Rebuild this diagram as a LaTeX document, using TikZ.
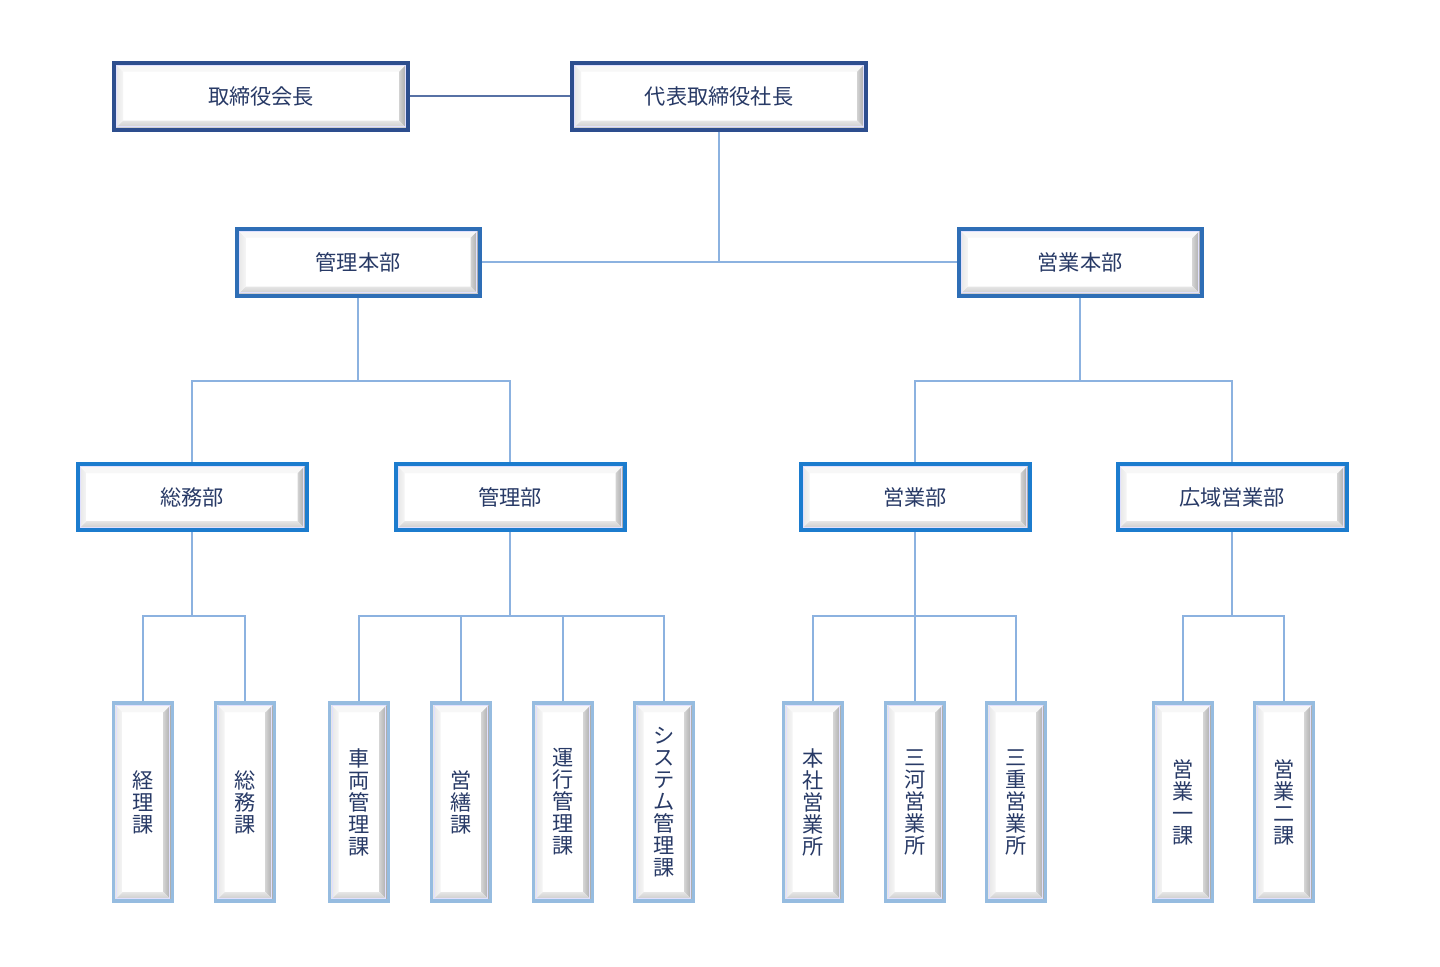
\documentclass[tikz,border=0pt]{standalone}
\usepackage{fontspec}
\newfontfamily\jpfont{Noto Sans CJK JP}
\definecolor{topline}{RGB}{45,78,142}
\definecolor{honbuline}{RGB}{46,110,182}
\definecolor{buline}{RGB}{28,124,206}
\definecolor{kaline}{RGB}{150,188,224}
\definecolor{linkcol}{RGB}{140,178,224}
\definecolor{textcol}{RGB}{40,58,102}
\tikzset{
  bevel/.style={path picture={
    \path (path picture bounding box.south west) coordinate (bvsw)
          (path picture bounding box.north east) coordinate (bvne)
          (path picture bounding box.north west) coordinate (bvnw)
          (path picture bounding box.south east) coordinate (bvse);
    \shade[left color=gray!35, right color=gray!75] (bvne) -- (bvse) -- ([shift={(-4.5pt,4.5pt)}]bvse) -- ([shift={(-4.5pt,-4.5pt)}]bvne) -- cycle;
    \shade[top color=gray!20, bottom color=gray!45] (bvse) -- (bvsw) -- ([shift={(4.5pt,4.5pt)}]bvsw) -- ([shift={(-4.5pt,4.5pt)}]bvse) -- cycle;
    \shade[left color=gray!22, right color=gray!8] (bvsw) -- (bvnw) -- ([shift={(4.5pt,-4.5pt)}]bvnw) -- ([shift={(4.5pt,4.5pt)}]bvsw) -- cycle;
    \fill[gray!6] (bvnw) -- (bvne) -- ([shift={(-4.5pt,-4.5pt)}]bvne) -- ([shift={(4.5pt,-4.5pt)}]bvnw) -- cycle;
    \draw[white!70!blue!40, line width=0.5pt] ([shift={(1.3pt,1.3pt)}]bvsw) rectangle ([shift={(-1.3pt,-1.3pt)}]bvne);
  }},
  box/.style={rectangle, fill=white, bevel, text=textcol, inner sep=0pt,
    font=\jpfont\fontsize{10.6}{11}\selectfont},
  topbox/.style={box, draw=topline, line width=2pt, minimum width=147pt, minimum height=33.5pt},
  honbu/.style={box, draw=honbuline, line width=2pt, minimum width=121.5pt, minimum height=33.5pt},
  bu/.style={box, draw=buline, line width=2pt, minimum width=114.5pt, minimum height=33pt},
  ka/.style={box, draw=kaline, line width=1.6pt, minimum width=29.5pt, minimum height=99pt,
    align=center, text width=14pt},
  link/.style={draw=linkcol, line width=0.6pt},
}
\begin{document}
\begin{tikzpicture}[x=0.5pt, y=-0.5pt]
  \useasboundingbox (0,0) rectangle (1440,966);
  % top
  \node[topbox] (kaicho) at (261,96) {取締役会長};
  \node[topbox] (shacho) at (719,96) {代表取締役社長};
  % honbu
  \node[honbu] (kanrih) at (358,262) {管理本部};
  \node[honbu] (eigyoh) at (1080,262) {営業本部};
  % bu
  \node[bu] (soumu) at (192,497) {総務部};
  \node[bu] (kanri) at (510,497) {管理部};
  \node[bu] (eigyo) at (915,497) {営業部};
  \node[bu] (kouiki) at (1232,497) {広域営業部};
  % ka
  \node[ka] (keiri) at (143,802) {経\\理\\課};
  \node[ka] (soumuka) at (245,802) {総\\務\\課};
  \node[ka] (sharyo) at (359,802) {車\\両\\管\\理\\課};
  \node[ka] (eizen) at (461,802) {営\\繕\\課};
  \node[ka] (unko) at (563,802) {運\\行\\管\\理\\課};
  \node[ka] (system) at (664,802) {シ\\ス\\テ\\ム\\管\\理\\課};
  \node[ka] (honsha) at (813,802) {本\\社\\営\\業\\所};
  \node[ka] (mikawa) at (915,802) {三\\河\\営\\業\\所};
  \node[ka] (mie) at (1016,802) {三\\重\\営\\業\\所};
  \node[ka] (eigyo1) at (1183,802) {営\\業\\一\\課};
  \node[ka] (eigyo2) at (1284,802) {営\\業\\二\\課};
  % links
  \draw[link, draw=topline!80] (kaicho.east) -- (shacho.west);
  \draw[link] (shacho.south) -- (shacho.south |- 0,263);
  \draw[link] (kanrih.east) -- (eigyoh.west);
  \draw[link] (kanrih.south) -- (kanrih.south |- 0,381);
  \draw[link] (soumu.north) |- (kanri.north |- 0,381) -- (kanri.north);
  \draw[link] (eigyoh.south) -- (eigyoh.south |- 0,381);
  \draw[link] (eigyo.north) |- (kouiki.north |- 0,381) -- (kouiki.north);
  \draw[link] (soumu.south) -- (soumu.south |- 0,616);
  \draw[link] (keiri.north) |- (soumuka.north |- 0,616) -- (soumuka.north);
  \draw[link] (kanri.south) -- (kanri.south |- 0,616);
  \draw[link] (sharyo.north) |- (system.north |- 0,616) -- (system.north);
  \draw[link] (eizen.north) -- (eizen.north |- 0,616);
  \draw[link] (unko.north) -- (unko.north |- 0,616);
  \draw[link] (eigyo.south) -- (mikawa.north);
  \draw[link] (honsha.north) |- (mie.north |- 0,616) -- (mie.north);
  \draw[link] (kouiki.south) -- (kouiki.south |- 0,616);
  \draw[link] (eigyo1.north) |- (eigyo2.north |- 0,616) -- (eigyo2.north);
\end{tikzpicture}
\end{document}
